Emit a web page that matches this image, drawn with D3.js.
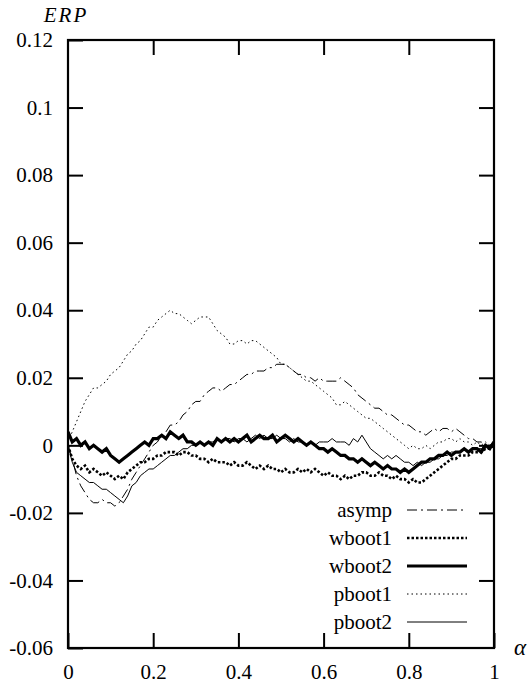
<!DOCTYPE html>
<html>
<head>
<meta charset="utf-8">
<script src="https://cdn.jsdelivr.net/npm/d3@7"></script>
<style>
  html, body { margin: 0; padding: 0; background: #fff; }
  svg { display: block; }
</style>
</head>
<body>
<svg id="chart" width="531" height="685"></svg>
<script>
// alpha grid 0.00 .. 1.00 step 0.01
const alpha = d3.range(0, 101).map(i => i / 100);

const asymp = [
  0.000,-0.004,-0.009,-0.012,-0.014,-0.016,-0.017,-0.017,-0.016,-0.017,
 -0.017,-0.018,-0.017,-0.015,-0.013,-0.010,-0.008,-0.006,-0.004,-0.002,
  0.000, 0.001, 0.003, 0.004, 0.006, 0.006, 0.007, 0.009, 0.010, 0.012,
  0.013, 0.013, 0.015, 0.016, 0.017, 0.017, 0.016, 0.017, 0.018, 0.018,
  0.019, 0.020, 0.021, 0.021, 0.022, 0.022, 0.022, 0.023, 0.023, 0.024,
  0.024, 0.024, 0.023, 0.022, 0.021, 0.021, 0.020, 0.020, 0.019, 0.020,
  0.019, 0.019, 0.019, 0.019, 0.020, 0.019, 0.018, 0.017, 0.015, 0.014,
  0.013, 0.012, 0.011, 0.011, 0.010, 0.009, 0.009, 0.008, 0.007, 0.006,
  0.006, 0.005, 0.004, 0.004, 0.003, 0.004, 0.005, 0.004, 0.005, 0.005,
  0.004, 0.005, 0.004, 0.003, 0.002, 0.002, 0.001, 0.001, 0.000, 0.000,
  0.000];

const wboot1 = [
  0.000,-0.004,-0.006,-0.007,-0.006,-0.008,-0.007,-0.008,-0.009,-0.008,
 -0.009,-0.010,-0.009,-0.010,-0.008,-0.007,-0.006,-0.005,-0.005,-0.004,
 -0.004,-0.003,-0.003,-0.002,-0.002,-0.002,-0.003,-0.002,-0.002,-0.003,
 -0.003,-0.004,-0.004,-0.005,-0.004,-0.005,-0.005,-0.005,-0.006,-0.005,
 -0.006,-0.006,-0.005,-0.006,-0.007,-0.006,-0.007,-0.006,-0.007,-0.007,
 -0.008,-0.007,-0.008,-0.008,-0.007,-0.008,-0.007,-0.008,-0.007,-0.008,
 -0.009,-0.008,-0.009,-0.009,-0.010,-0.009,-0.010,-0.009,-0.009,-0.008,
 -0.008,-0.009,-0.009,-0.008,-0.009,-0.009,-0.010,-0.009,-0.010,-0.010,
 -0.011,-0.010,-0.011,-0.011,-0.010,-0.009,-0.008,-0.007,-0.006,-0.005,
 -0.004,-0.004,-0.003,-0.003,-0.003,-0.002,-0.002,-0.002,-0.001,-0.001,
  0.000];

const wboot2 = [
  0.004, 0.001, 0.002, 0.000, 0.001,-0.001, 0.000,-0.001,-0.002,-0.001,
 -0.003,-0.004,-0.005,-0.004,-0.003,-0.002,-0.001, 0.000, 0.001, 0.000,
  0.002, 0.002, 0.003, 0.002, 0.004, 0.003, 0.002, 0.003, 0.001, 0.001,
  0.000, 0.001, 0.000, 0.001, 0.000, 0.002, 0.001, 0.002, 0.001, 0.002,
  0.001, 0.002, 0.003, 0.001, 0.002, 0.003, 0.002, 0.002, 0.003, 0.001,
  0.002, 0.003, 0.002, 0.001, 0.002, 0.001, 0.000, 0.001, 0.000,-0.001,
 -0.001,-0.002,-0.001,-0.002,-0.003,-0.003,-0.004,-0.004,-0.005,-0.004,
 -0.005,-0.006,-0.005,-0.006,-0.007,-0.006,-0.007,-0.007,-0.008,-0.007,
 -0.008,-0.007,-0.006,-0.005,-0.005,-0.004,-0.004,-0.003,-0.003,-0.002,
 -0.003,-0.002,-0.002,-0.001,-0.002,-0.001,-0.001,-0.002, 0.000,-0.001,
  0.001];

const pboot1 = [
  0.001, 0.004, 0.007, 0.010, 0.013, 0.015, 0.017, 0.017, 0.018, 0.019,
  0.021, 0.022, 0.023, 0.025, 0.027, 0.028, 0.030, 0.031, 0.033, 0.035,
  0.035, 0.037, 0.038, 0.039, 0.040, 0.039, 0.039, 0.038, 0.037, 0.036,
  0.037, 0.038, 0.038, 0.038, 0.036, 0.034, 0.033, 0.032, 0.030, 0.030,
  0.031, 0.031, 0.030, 0.031, 0.031, 0.030, 0.029, 0.028, 0.027, 0.026,
  0.024, 0.024, 0.023, 0.022, 0.021, 0.020, 0.019, 0.019, 0.018, 0.017,
  0.016, 0.015, 0.014, 0.012, 0.012, 0.013, 0.012, 0.011, 0.010, 0.009,
  0.008, 0.008, 0.007, 0.006, 0.005, 0.004, 0.003, 0.002, 0.001, 0.000,
 -0.001, 0.000,-0.001,-0.001, 0.000,-0.001, 0.000, 0.001, 0.001, 0.002,
  0.002, 0.001, 0.002, 0.001, 0.001, 0.000, 0.001, 0.000, 0.001, 0.000,
  0.000];

const pboot2 = [
  0.000,-0.005,-0.008,-0.009,-0.010,-0.011,-0.011,-0.012,-0.013,-0.013,
 -0.014,-0.015,-0.016,-0.017,-0.015,-0.012,-0.011,-0.009,-0.008,-0.007,
 -0.007,-0.006,-0.005,-0.004,-0.003,-0.003,-0.002,-0.001,-0.001, 0.000,
  0.000, 0.001, 0.000, 0.001, 0.001, 0.002, 0.001, 0.002, 0.002, 0.001,
  0.002, 0.002, 0.001, 0.002, 0.003, 0.002, 0.003, 0.002, 0.002, 0.003,
  0.002, 0.002, 0.001, 0.002, 0.001, 0.001, 0.000, 0.001, 0.000, 0.001,
  0.001, 0.001, 0.002, 0.001, 0.001, 0.001, 0.000, 0.002, 0.001, 0.003,
  0.001,-0.001,-0.002,-0.003,-0.004,-0.003,-0.004,-0.003,-0.004,-0.005,
 -0.005,-0.006,-0.005,-0.006,-0.005,-0.005,-0.004,-0.004,-0.003,-0.003,
 -0.002,-0.002,-0.002,-0.001,-0.002,-0.001,-0.001,-0.001, 0.000, 0.000,
  0.001];

const xTicks = [0, 0.2, 0.4, 0.6, 0.8, 1];
const xTickLabels = ["0", "0.2", "0.4", "0.6", "0.8", "1"];
const yTicks = [-0.06, -0.04, -0.02, 0, 0.02, 0.04, 0.06, 0.08, 0.1, 0.12];
const yTickLabels = ["-0.06", "-0.04", "-0.02", "0", "0.02", "0.04", "0.06", "0.08", "0.1", "0.12"];
const seriesNames = ["asymp", "wboot1", "wboot2", "pboot1", "pboot2"];
const seriesValues = [asymp, wboot1, wboot2, pboot1, pboot2];

const styles = {
  asymp:  { width: 1,   dash: "10,4,2,4" },
  wboot1: { width: 2.6, dash: "2.5,2" },
  wboot2: { width: 3.2, dash: null },
  pboot1: { width: 1,   dash: "1.5,3" },
  pboot2: { width: 1,   dash: null }
};

const L = 68, R = 494, T = 40, B = 648;
const FS = 21;
const FONT = "Liberation Serif";

const svg = d3.select("#chart");
const x = d3.scaleLinear().domain([0, 1]).range([L, R]);
const y = d3.scaleLinear().domain([-0.06, 0.12]).range([B, T]);

svg.append("defs").append("clipPath").attr("id", "clip")
  .append("rect").attr("x", L).attr("y", T).attr("width", R - L).attr("height", B - T);

function styleAxis(g) {
  g.attr("font-family", FONT).attr("font-size", FS);
  g.select(".domain").remove();
  g.selectAll(".tick line").attr("stroke", "#000").attr("stroke-width", 2);
  g.selectAll(".tick text").attr("fill", "#000");
}

svg.append("g").attr("transform", `translate(0,${B})`)
  .call(d3.axisBottom(x).tickValues(xTicks).tickSize(-15).tickPadding(16)
    .tickFormat((d, i) => xTickLabels[i]))
  .call(styleAxis);

svg.append("g").attr("transform", `translate(0,${T})`)
  .call(d3.axisTop(x).tickValues(xTicks.slice(1, -1)).tickSize(-15).tickFormat(""))
  .call(styleAxis);

svg.append("g").attr("transform", `translate(${L},0)`)
  .call(d3.axisLeft(y).tickValues(yTicks).tickSize(-15).tickPadding(15)
    .tickFormat((d, i) => yTickLabels[i]))
  .call(styleAxis);

svg.append("g").attr("transform", `translate(${R},0)`)
  .call(d3.axisRight(y).tickValues(yTicks.slice(1, -1)).tickSize(-15).tickFormat(""))
  .call(styleAxis);

// lines
const line = d3.line().x((d, i) => x(alpha[i])).y(d => y(d));
const drawOrder = ["pboot1", "asymp", "pboot2", "wboot1", "wboot2"];
const gLines = svg.append("g").attr("clip-path", "url(#clip)");
drawOrder.forEach(name => {
  const vals = seriesValues[seriesNames.indexOf(name)];
  const st = styles[name];
  gLines.append("path")
    .datum(vals)
    .attr("d", line)
    .attr("fill", "none")
    .attr("stroke", "#000")
    .attr("stroke-width", st.width)
    .attr("stroke-dasharray", st.dash)
    .attr("stroke-linejoin", "miter");
});

// frame
svg.append("rect").attr("x", L).attr("y", T).attr("width", R - L).attr("height", B - T)
  .attr("fill", "none").attr("stroke", "#000").attr("stroke-width", 2.2);

// legend
const legY0 = 510, legDY = 28;
const leg = svg.append("g").attr("font-family", FONT).attr("font-size", FS);
seriesNames.forEach((name, i) => {
  const yy = legY0 + i * legDY;
  const st = styles[name];
  leg.append("text").attr("x", 392).attr("y", yy).attr("dy", "0.32em")
    .attr("text-anchor", "end").text(name);
  leg.append("line").attr("x1", 407).attr("x2", 467).attr("y1", yy).attr("y2", yy)
    .attr("stroke", "#000").attr("stroke-width", st.width)
    .attr("stroke-dasharray", st.dash);
});

// axis titles
svg.append("text").attr("x", 66).attr("y", 22).attr("text-anchor", "middle")
  .attr("font-family", FONT).attr("font-size", FS).attr("font-style", "italic")
  .attr("letter-spacing", 2).text("ERP");
svg.append("text").attr("x", 520).attr("y", 655).attr("text-anchor", "middle")
  .attr("font-family", FONT).attr("font-size", FS + 2).attr("font-style", "italic")
  .text("α");
</script>
</body>
</html>
